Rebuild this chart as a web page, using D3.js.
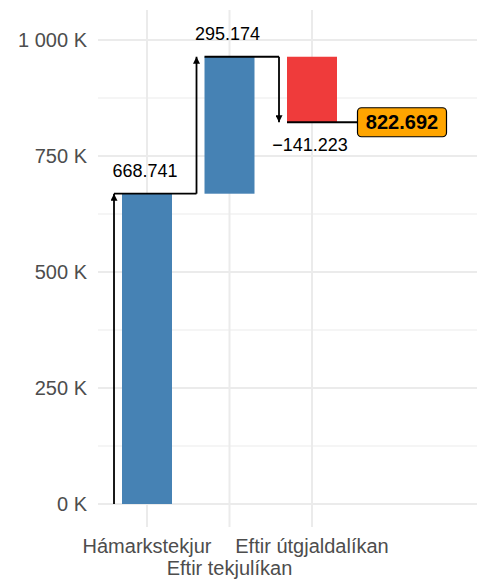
<!DOCTYPE html>
<html><head><meta charset="utf-8">
<script src="https://cdn.jsdelivr.net/npm/d3@7"></script>
<style>body{margin:0;background:#fff}svg{display:block}text{font-family:"Liberation Sans",Arial,sans-serif}</style>
</head><body><svg id="c" width="487" height="583"></svg>
<script>
const categories = ["Hámarkstekjur", "Eftir tekjulíkan", "Eftir útgjaldalíkan"];
const changes = [668741, 295174, -141223];
const changeLabels = ["668.741", "295.174", "\u2212141.223"];
const finalLabel = "822.692";
const yTicks = [0, 250000, 500000, 750000, 1000000];
const yTickLabels = ["0 K", "250 K", "500 K", "750 K", "1 000 K"];
const yMinor = [125000, 375000, 625000, 875000];

const svg = d3.select("#c");
const x = d3.scaleLinear().domain([-0.594, 4.0]).range([98, 477]);
const y = d3.scaleLinear().domain([0, 1000000]).range([504, 40]);
const panelTop = 10, panelBottom = 527;
const step = x(1) - x(0);
const barW = step * 0.606;
const grid = svg.append("g");
grid.selectAll(".mn").data(yMinor).join("line")
  .attr("x1", 98).attr("x2", 477).attr("y1", d => y(d)).attr("y2", d => y(d))
  .attr("stroke", "#ebebeb").attr("stroke-width", 1);
grid.selectAll(".mj").data(yTicks).join("line")
  .attr("x1", 98).attr("x2", 477).attr("y1", d => y(d)).attr("y2", d => y(d))
  .attr("stroke", "#ebebeb").attr("stroke-width", 2);
grid.selectAll(".vx").data(categories).join("line")
  .attr("x1", (d, i) => x(i)).attr("x2", (d, i) => x(i)).attr("y1", panelTop).attr("y2", panelBottom)
  .attr("stroke", "#ebebeb").attr("stroke-width", 2);

const starts = [], ends = [];
let cum = 0;
changes.forEach(c => { starts.push(cum); cum += c; ends.push(cum); });

svg.append("defs").append("marker").attr("id", "ah").attr("viewBox", "0 0 10 10")
  .attr("refX", 10).attr("refY", 5).attr("markerWidth", 7).attr("markerHeight", 7)
  .attr("markerUnits", "userSpaceOnUse").attr("orient", "auto")
  .append("path").attr("d", "M0,0L10,5L0,10Z").attr("fill", "#000");

svg.selectAll(".bar").data(changes).join("rect")
  .attr("x", (d, i) => x(i) - barW / 2)
  .attr("width", barW)
  .attr("y", (d, i) => y(Math.max(starts[i], ends[i])))
  .attr("height", (d, i) => Math.abs(y(starts[i]) - y(ends[i])))
  .attr("fill", d => d >= 0 ? "#4682b4" : "#ef3b3b");

const off = 8;
svg.selectAll(".arr").data(changes).join("line")
  .attr("x1", (d, i) => x(i) - barW / 2 - off).attr("x2", (d, i) => x(i) - barW / 2 - off)
  .attr("y1", (d, i) => y(starts[i])).attr("y2", (d, i) => y(ends[i]))
  .attr("stroke", "#000").attr("stroke-width", 1.8).attr("marker-end", "url(#ah)");
const labelCx = 402;
svg.selectAll(".con").data(changes).join("line")
  .attr("x1", (d, i) => x(i) - barW / 2 - (i === 0 ? off : 0))
  .attr("x2", (d, i) => i < changes.length - 1 ? x(i + 1) - barW / 2 - off : labelCx)
  .attr("y1", (d, i) => y(ends[i])).attr("y2", (d, i) => y(ends[i]))
  .attr("stroke", "#000").attr("stroke-width", 1.8);

svg.selectAll(".vl").data(changes).join("text")
  .attr("x", (d, i) => x(i) - 2)
  .attr("y", (d, i) => d >= 0 ? y(ends[i]) - 16.5 : y(ends[i]) + 28.5)
  .attr("text-anchor", "middle").attr("font-size", 18).attr("fill", "#000")
  .text((d, i) => changeLabels[i]);

const fy = y(ends[ends.length - 1]);
const g = svg.append("g");
g.append("rect").attr("x", labelCx - 44.5).attr("y", fy - 14.5).attr("width", 89).attr("height", 29)
  .attr("rx", 4).attr("fill", "#ffa500").attr("stroke", "#000").attr("stroke-width", 1.2);
g.append("text").attr("x", labelCx).attr("y", fy + 7).attr("text-anchor", "middle")
  .attr("font-size", 20).attr("font-weight", "bold").attr("fill", "#000").text(finalLabel);

svg.selectAll(".yt").data(yTicks).join("text")
  .attr("x", 87).attr("y", d => y(d) + 6.5).attr("text-anchor", "end")
  .attr("font-size", 20).attr("fill", "#4d4d4d")
  .text((d, i) => yTickLabels[i]);

svg.selectAll(".xt").data(categories).join("text")
  .attr("x", (d, i) => x(i)).attr("y", (d, i) => i % 2 === 0 ? 552.5 : 575)
  .attr("text-anchor", "middle").attr("font-size", 20).attr("fill", "#4d4d4d")
  .text(d => d);
</script></body></html>
